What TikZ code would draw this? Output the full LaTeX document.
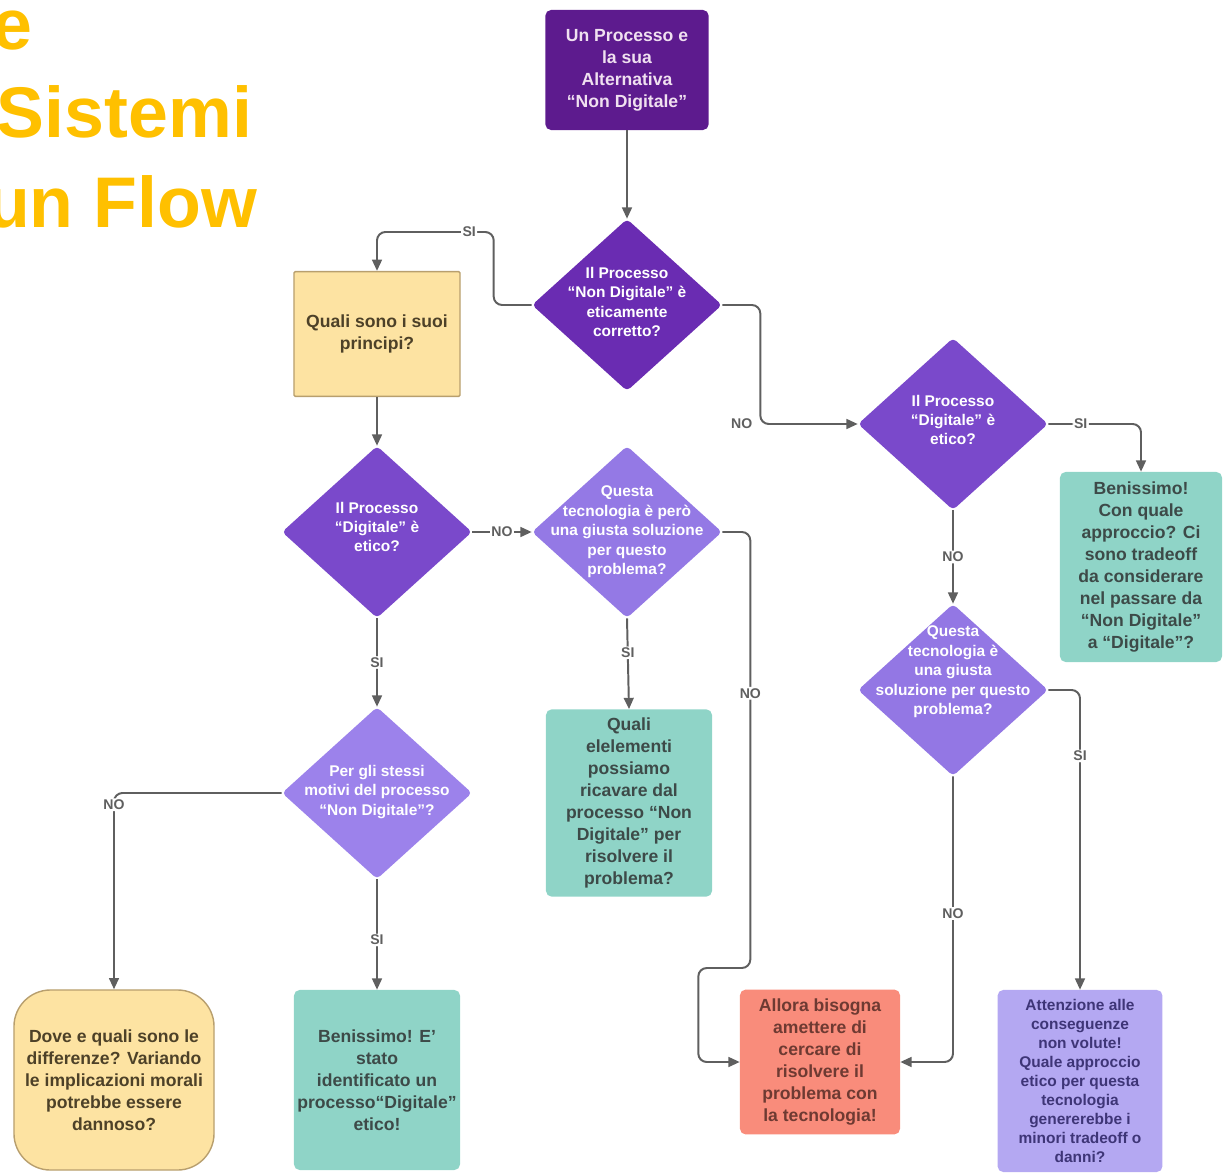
\documentclass[tikz,border=0pt]{standalone}
\usepackage{fontspec}
\setmainfont{Liberation Sans}
\usetikzlibrary{shapes.geometric,arrows.meta,positioning}
\definecolor{gold}{HTML}{FFC000}
\definecolor{startcol}{HTML}{5D1B8E}
\definecolor{dia1}{HTML}{6A2CB2}
\definecolor{dia2}{HTML}{7A49CB}
\definecolor{dia3}{HTML}{9479E5}
\definecolor{dia4}{HTML}{9C82EB}
\definecolor{tealbox}{HTML}{8FD4C7}
\definecolor{tealtxt}{HTML}{3D4A48}
\definecolor{yellowbox}{HTML}{FDE3A2}
\definecolor{yellowline}{HTML}{B89F6E}
\definecolor{yellowtxt}{HTML}{4D4128}
\definecolor{salmon}{HTML}{F98C7B}
\definecolor{salmontxt}{HTML}{6E3A32}
\definecolor{lavbox}{HTML}{B4A8F2}
\definecolor{lavtxt}{HTML}{3E3577}
\definecolor{linecol}{HTML}{5F5F5F}

\begin{document}
\begin{tikzpicture}[
  x=0.025cm,
  y=-0.025cm,
  dia/.style={diamond, minimum width=4.75cm, minimum height=4.3cm, inner sep=0pt, rounded corners=3pt},
  dtext/.style={text=white, align=center, font=\bfseries\fontsize{11}{13.8}\selectfont},
  card/.style={rounded corners=4pt, align=center, inner sep=2pt, font=\bfseries\fontsize{12.5}{15.6}\selectfont},
  tealcard/.style={card, fill=tealbox, text=tealtxt},
  yellowcard/.style={card, fill=yellowbox, draw=yellowline, line width=1pt, text=yellowtxt},
  flow/.style={draw=linecol, line width=1.4pt, rounded corners=6pt, -{Triangle[length=8pt,width=7pt]}},
  lbl/.style={fill=white, text=linecol, inner sep=1pt, font=\bfseries\fontsize{10}{12}\selectfont},
  title/.style={anchor=base east, text=gold, font=\bfseries\fontsize{51}{60}\selectfont}
]
\useasboundingbox (0,0) rectangle (1223,1174);

% title, cut at the left edge
\node[title] (t1) at (37,50) {e};
\node[title] (t2) at (257,138) {Sistemi};
\node[title] (t3) at (262,228) {un Flow};

% first column of questions
\node[card, fill=startcol, text=white!88!violet, minimum width=4.08cm, minimum height=3cm] (start) at (627,70) {Un Processo e\\la sua\\Alternativa\\“Non Digitale”};
\node[dia, fill=dia1] (d1) at (627,305) {};
\node[dtext] (d1t) at (627,302) {Il Processo\\“Non Digitale” è\\eticamente\\corretto?};
\node[yellowcard, rounded corners=1pt, minimum width=4.15cm, minimum height=3.12cm] (principi) at (377,334) {Quali sono i suoi\\principi?};

\node[dia, fill=dia2] (d2) at (377,532) {};
\node[dtext] (d2t) at (377,527) {Il Processo\\“Digitale” è\\etico?};
\node[dia, fill=dia3] (d3) at (627,532) {};
\node[dtext] (d3t) at (627,532) {Questa\\tecnologia è però\\una giusta soluzione\\per questo\\problema?};
\node[dia, fill=dia4] (d6) at (377,793) {};
\node[dtext] (d6t) at (377,792) {Per gli stessi\\motivi del processo\\“Non Digitale”?};

% right branch
\node[dia, fill=dia2] (d4) at (953,424) {};
\node[dtext] (d4t) at (953,420) {Il Processo\\“Digitale” è\\etico?};
\node[dia, fill=dia3!95!dia2] (d5) at (953,690) {};
\node[dtext] (d5t) at (953,672) {Questa\\tecnologia è\\una giusta\\soluzione per questo\\problema?};
\node[tealcard, minimum width=4.05cm, minimum height=4.75cm] (benR) at (1141,567) {Benissimo!\\Con quale\\approccio? Ci\\sono tradeoff\\da considerare\\nel passare da\\“Non Digitale”\\a “Digitale”?};

% answers
\node[tealcard, minimum width=4.15cm, minimum height=4.68cm] (elem) at (629,803) {Quali\\elelementi\\possiamo\\ricavare dal\\processo “Non\\Digitale” per\\risolvere il\\problema?};
\node[yellowcard, rounded corners=26pt, minimum width=5cm, minimum height=4.5cm] (dove) at (114,1080) {Dove e quali sono le\\differenze? Variando\\le implicazioni morali\\potrebbe essere\\dannoso?};
\node[tealcard, minimum width=4.15cm, minimum height=4.5cm] (benE) at (377,1080) {Benissimo! E'\\stato\\identificato un\\processo“Digitale”\\etico!};
\node[card, fill=salmon, text=salmontxt, minimum width=4cm, minimum height=3.62cm] (allora) at (820,1062) {Allora bisogna\\amettere di\\cercare di\\risolvere il\\problema con\\la tecnologia!};
\node[card, fill=lavbox, text=lavtxt, font=\bfseries\fontsize{11}{13.5}\selectfont, minimum width=4.12cm, minimum height=4.55cm] (att) at (1080,1081) {Attenzione alle\\conseguenze\\non volute!\\Quale approccio\\etico per questa\\tecnologia\\genererebbe i\\minori tradeoff o\\danni?};

% connectors
\draw[flow] (start.south) -- (d1.north);
\draw[flow] (d1.west) -- ++(-38,0) -- ++(0,-73) -| node[lbl, pos=0.105] {SI} (principi.north);
\draw[flow] (d1.east) -- ++(38,0) |- node[lbl, pos=0.5, left=4pt] {NO} (d4.west);
\draw[flow] (d4.east) -| node[lbl, pos=0.175] {SI} (benR.north);
\draw[flow] (d4.south) -- node[lbl] {NO} (d5.north);
\draw[flow] (principi.south) -- (d2.north);
\draw[flow] (d2.east) -- node[lbl] {NO} (d3.west);
\draw[flow] (d3.south) -- node[lbl, pos=0.38] {SI} (elem.north);
\draw[flow] (d3.east) -- ++(28,0) -- node[lbl, pos=0.37] {NO} ++(0,436) -- ++(-52,0) |- (allora.west);
\draw[flow] (d5.south) |- node[lbl, pos=0.24] {NO} (allora.east);
\draw[flow] (d5.east) -| node[lbl, pos=0.61] {SI} (att.north);
\draw[flow] (d2.south) -- node[lbl] {SI} (d6.north);
\draw[flow] (d6.west) -| node[lbl, pos=0.53] {NO} (dove.north);
\draw[flow] (d6.south) -- node[lbl, pos=0.55] {SI} (benE.north);
\end{tikzpicture}
\end{document}
